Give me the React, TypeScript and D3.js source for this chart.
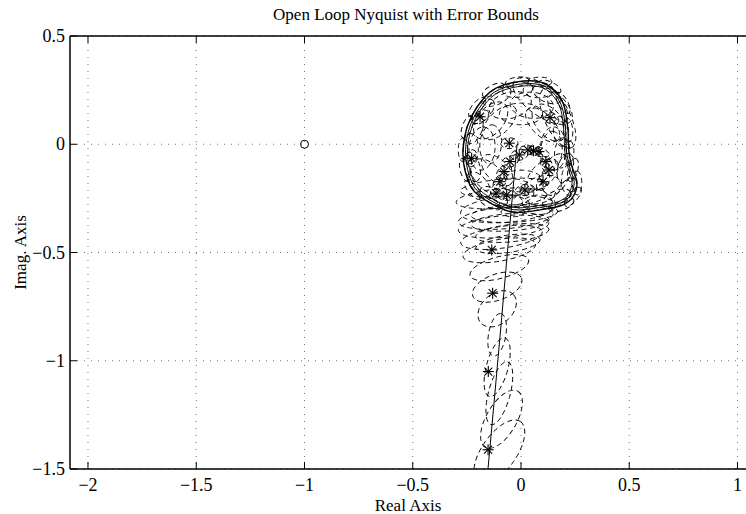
import React from "react";
import * as d3 from "d3";

// ---- axis ticks ----
const xTicks = [-2, -1.5, -1, -0.5, 0, 0.5, 1];
const yTicks = [0.5, 0, -0.5, -1, -1.5];

// ---- model curve: low-frequency stem ----
const stemRe = [-0.157, -0.125, -0.089, -0.054, -0.018];
const stemIm = [-1.55, -1.2, -0.8, -0.4, 0.0];

// ---- model curve: resonance loop (three passes) ----
const loopRe = [0.088, 0.134, 0.194, 0.217, 0.222, 0.240, 0.259, 0.240, 0.194, 0.088, -0.037, -0.143, -0.222, -0.259, -0.268, -0.249, -0.203, -0.129, -0.018];
const loopIm = [0.288, 0.266, 0.191, 0.066, -0.040, -0.119, -0.179, -0.243, -0.280, -0.303, -0.313, -0.271, -0.211, -0.119, -0.026, 0.080, 0.172, 0.251, 0.288];
const loop2Re = [0.085, 0.130, 0.185, 0.206, 0.211, 0.228, 0.246, 0.228, 0.186, 0.085, -0.035, -0.138, -0.212, -0.247, -0.256, -0.238, -0.194, -0.124, -0.017];
const loop2Im = [0.276, 0.255, 0.184, 0.063, -0.040, -0.117, -0.177, -0.236, -0.270, -0.292, -0.302, -0.261, -0.203, -0.115, -0.025, 0.076, 0.165, 0.240, 0.276];
const loop3Re = [0.083, 0.126, 0.178, 0.198, 0.203, 0.219, 0.236, 0.219, 0.180, 0.083, -0.033, -0.133, -0.204, -0.238, -0.247, -0.229, -0.186, -0.119, -0.016];
const loop3Im = [0.266, 0.246, 0.177, 0.060, -0.040, -0.115, -0.175, -0.230, -0.262, -0.283, -0.292, -0.252, -0.196, -0.111, -0.024, 0.072, 0.158, 0.231, 0.266];

// ---- measured points (asterisks) ----
const dataRe = [-0.152, -0.151, -0.131, -0.135, -0.189, 0.134, -0.054, -0.228, -0.008, 0.032, 0.058, 0.083, 0.115, 0.129, 0.102, 0.018, -0.051, -0.078, -0.097, -0.066, -0.115];
const dataIm = [-1.411, -1.050, -0.688, -0.488, 0.127, 0.123, 0.005, -0.065, -0.049, -0.026, -0.030, -0.034, -0.080, -0.119, -0.173, -0.211, -0.080, -0.126, -0.173, -0.234, -0.226];

// ---- error-bound ellipses: centre, semi-axes, orientation (deg) ----
const ellRe = [
  // stem
  -0.10, -0.09, -0.10, -0.11, -0.11, -0.11, -0.11, -0.10, -0.10, -0.09, -0.08, -0.07, -0.06, -0.08, -0.09, -0.05, -0.04, -0.06, -0.03,
  // inside ring
  0.080, 0.120, 0.170, 0.185, 0.190, 0.205, 0.222, 0.205, 0.165, 0.075, -0.030, -0.125, -0.192, -0.225, -0.232, -0.215, -0.175, -0.110, -0.015,
  // on ring
  0.088, 0.134, 0.194, 0.217, 0.222, 0.240, 0.259, 0.240, 0.194, 0.088, -0.037, -0.143, -0.222, -0.259, -0.268, -0.249, -0.203, -0.129, -0.018,
  // mid layer
  0.05, 0.13, 0.15, 0.16, 0.09, -0.04, -0.15, -0.18, -0.14, -0.05,
  // inner layer
  0.00, 0.10, 0.14, 0.10, 0.00, -0.11, -0.14, -0.10,
  // outer upper right
  0.17, 0.10,
  // around measured points
  -0.189, 0.134, -0.054, -0.228, -0.008, 0.045, 0.083, 0.122, 0.102, 0.018, -0.051, -0.078, -0.097, -0.066,
];
const ellIm = [
  -1.42, -1.27, -1.15, -1.03, -0.88, -0.76, -0.66, -0.57, -0.49, -0.43, -0.38, -0.34, -0.30, -0.20, -0.25, -0.36, -0.41, -0.46, -0.32,
  0.250, 0.230, 0.165, 0.060, -0.040, -0.110, -0.165, -0.215, -0.250, -0.270, -0.278, -0.240, -0.185, -0.105, -0.020, 0.070, 0.150, 0.220, 0.252,
  0.288, 0.266, 0.191, 0.066, -0.040, -0.119, -0.179, -0.243, -0.280, -0.303, -0.313, -0.271, -0.211, -0.119, -0.026, 0.080, 0.172, 0.251, 0.288,
  0.18, 0.10, -0.02, -0.14, -0.21, -0.22, -0.15, -0.02, 0.11, 0.18,
  0.14, 0.09, -0.03, -0.14, -0.17, -0.12, 0.00, 0.10,
  0.12, 0.20,
  0.127, 0.123, 0.005, -0.065, -0.049, -0.028, -0.034, -0.100, -0.173, -0.211, -0.080, -0.126, -0.173, -0.234,
];
const ellA = [
  0.17, 0.15, 0.15, 0.14, 0.10, 0.10, 0.12, 0.14, 0.17, 0.19, 0.21, 0.22, 0.22, 0.20, 0.21, 0.18, 0.17, 0.15, 0.20,
  0.07, 0.07, 0.07, 0.07, 0.07, 0.07, 0.07, 0.07, 0.07, 0.07, 0.07, 0.07, 0.07, 0.07, 0.07, 0.07, 0.07, 0.07, 0.07,
  0.055, 0.055, 0.055, 0.055, 0.055, 0.055, 0.055, 0.055, 0.055, 0.055, 0.055, 0.055, 0.055, 0.055, 0.055, 0.055, 0.055, 0.055, 0.055,
  0.10, 0.10, 0.10, 0.10, 0.10, 0.10, 0.10, 0.10, 0.10, 0.10,
  0.10, 0.10, 0.09, 0.09, 0.10, 0.09, 0.09, 0.10,
  0.15, 0.16,
  0.045, 0.045, 0.04, 0.04, 0.04, 0.05, 0.05, 0.05, 0.045, 0.045, 0.04, 0.04, 0.04, 0.045,
];
const ellB = [
  0.08, 0.07, 0.05, 0.05, 0.04, 0.07, 0.06, 0.05, 0.05, 0.05, 0.05, 0.05, 0.06, 0.04, 0.045, 0.04, 0.04, 0.04, 0.04,
  0.035, 0.035, 0.035, 0.035, 0.035, 0.035, 0.035, 0.035, 0.035, 0.035, 0.035, 0.035, 0.035, 0.035, 0.035, 0.035, 0.035, 0.035, 0.035,
  0.022, 0.022, 0.022, 0.022, 0.022, 0.022, 0.022, 0.022, 0.022, 0.022, 0.022, 0.022, 0.022, 0.022, 0.022, 0.022, 0.022, 0.022, 0.022,
  0.06, 0.06, 0.06, 0.06, 0.06, 0.06, 0.06, 0.06, 0.06, 0.06,
  0.05, 0.05, 0.05, 0.05, 0.05, 0.05, 0.05, 0.05,
  0.06, 0.07,
  0.025, 0.025, 0.025, 0.025, 0.025, 0.02, 0.02, 0.025, 0.025, 0.025, 0.025, 0.025, 0.025, 0.025,
];
const ellAng = [
  55, 60, 75, 75, 80, 40, 20, 15, 10, 8, 5, 5, 5, 5, 5, 4, 6, 8, 3,
  0, -25, -60, -85, 85, 75, 90, 50, 25, 5, 0, -28, -50, -75, 90, 70, 50, 28, 8,
  0, -25, -60, -85, 85, 75, 90, 50, 25, 5, 0, -28, -50, -75, 90, 70, 50, 28, 8,
  -5, -50, 90, 70, 20, 0, -45, 85, 50, 15,
  0, -45, 85, 45, 0, -45, 85, 45,
  -65, -35,
  30, -30, 0, 80, 10, -10, -20, -60, 60, 10, 20, 40, 50, 0,
];

const W = 746;
const H = 514;
const left = 70;
const top = 36;
const right = 760;
const bottom = 469;

export default function App() {
  const x = d3.scaleLinear().domain([-2.0831, 1.104]).range([left, right]);
  const y = d3.scaleLinear().domain([-1.5, 0.5]).range([bottom, top]);
  const k = x(1) - x(0);

  const stemLine = d3
    .line<number>()
    .x((_, i) => x(stemRe[i]))
    .y((_, i) => y(stemIm[i]));
  const loopLine = (re: number[], im: number[]) =>
    d3
      .line<number>()
      .x((_, i) => x(re[i]))
      .y((_, i) => y(im[i]))
      .curve(d3.curveCatmullRomClosed.alpha(0.5))(re as any);

  const font = "'Liberation Serif', 'Times New Roman', serif";
  const tickLen = 7;

  return (
    <svg
      width={W}
      height={H}
      style={{ position: "absolute", left: 0, top: 0, background: "#fff" }}
      fontFamily={font}
    >
      <defs>
        <clipPath id="plot">
          <rect x={left} y={top} width={right - left} height={bottom - top} />
        </clipPath>
      </defs>
      <rect x={0} y={0} width={W} height={H} fill="#fff" />

      {/* grid */}
      <g stroke="#000" strokeWidth={1} strokeDasharray="1,6" opacity={0.55}>
        {xTicks.map((t) => (
          <line key={"gx" + t} x1={x(t)} x2={x(t)} y1={top} y2={bottom} />
        ))}
        {yTicks.map((t) => (
          <line key={"gy" + t} x1={left} x2={right} y1={y(t)} y2={y(t)} />
        ))}
      </g>

      <g clipPath="url(#plot)">
        {/* error ellipses */}
        <g fill="none" stroke="#000" strokeWidth={0.9} strokeDasharray="5,3.5">
          {ellRe.map((re, i) => {
            const cx = x(re);
            const cy = y(ellIm[i]);
            return (
              <ellipse
                key={"e" + i}
                cx={cx}
                cy={cy}
                rx={ellA[i] * k}
                ry={ellB[i] * k}
                transform={`rotate(${-ellAng[i]},${cx},${cy})`}
              />
            );
          })}
        </g>
        {/* model */}
        <g fill="none" stroke="#000" strokeWidth={1}>
          <path d={stemLine(stemRe) || ""} />
          <path d={loopLine(loopRe, loopIm) || ""} strokeWidth={1.4} />
          <path d={loopLine(loop2Re, loop2Im) || ""} />
          <path d={loopLine(loop3Re, loop3Im) || ""} strokeWidth={0.9} />
        </g>
        {/* asterisks */}
        <g stroke="#000" strokeWidth={1.1}>
          {dataRe.map((re, i) => {
            const cx = x(re);
            const cy = y(dataIm[i]);
            const s = 5.5;
            const d = 4;
            return (
              <g key={"a" + i}>
                <line x1={cx - s} x2={cx + s} y1={cy} y2={cy} />
                <line x1={cx} x2={cx} y1={cy - s} y2={cy + s} />
                <line x1={cx - d} x2={cx + d} y1={cy - d} y2={cy + d} />
                <line x1={cx - d} x2={cx + d} y1={cy + d} y2={cy - d} />
              </g>
            );
          })}
        </g>
        {/* critical point */}
        <circle cx={x(-1)} cy={y(0)} r={4} fill="none" stroke="#000" strokeWidth={1} />
      </g>

      {/* axes frame */}
      <g stroke="#000" strokeWidth={1.5} fill="none">
        <line x1={left} x2={right} y1={top} y2={top} />
        <line x1={left} x2={right} y1={bottom} y2={bottom} />
        <line x1={left} x2={left} y1={top} y2={bottom} />
        <line x1={right} x2={right} y1={top} y2={bottom} />
      </g>
      <g stroke="#000" strokeWidth={1}>
        {xTicks.map((t) => (
          <g key={"tx" + t}>
            <line x1={x(t)} x2={x(t)} y1={bottom} y2={bottom - tickLen} />
            <line x1={x(t)} x2={x(t)} y1={top} y2={top + tickLen} />
          </g>
        ))}
        {yTicks.map((t) => (
          <line key={"ty" + t} x1={left} x2={left + tickLen} y1={y(t)} y2={y(t)} />
        ))}
      </g>

      {/* tick labels */}
      <g fontSize={18} fill="#000">
        {xTicks.map((t) => (
          <text key={"lx" + t} x={x(t)} y={bottom + 22} textAnchor="middle">
            {t < 0 ? "\u2212" + Math.abs(t) : String(t)}
          </text>
        ))}
        {yTicks.map((t) => (
          <text key={"ly" + t} x={left - 5} y={y(t) + 6} textAnchor="end">
            {t < 0 ? "\u2212" + Math.abs(t) : String(t)}
          </text>
        ))}
      </g>

      <text x={406} y={20} textAnchor="middle" fontSize={17}>
        Open Loop Nyquist with Error Bounds
      </text>
      <text x={408} y={511} textAnchor="middle" fontSize={17}>
        Real Axis
      </text>
      <text
        transform={`translate(26,${(top + bottom) / 2}) rotate(-90)`}
        textAnchor="middle"
        fontSize={17}
      >
        Imag. Axis
      </text>
    </svg>
  );
}
